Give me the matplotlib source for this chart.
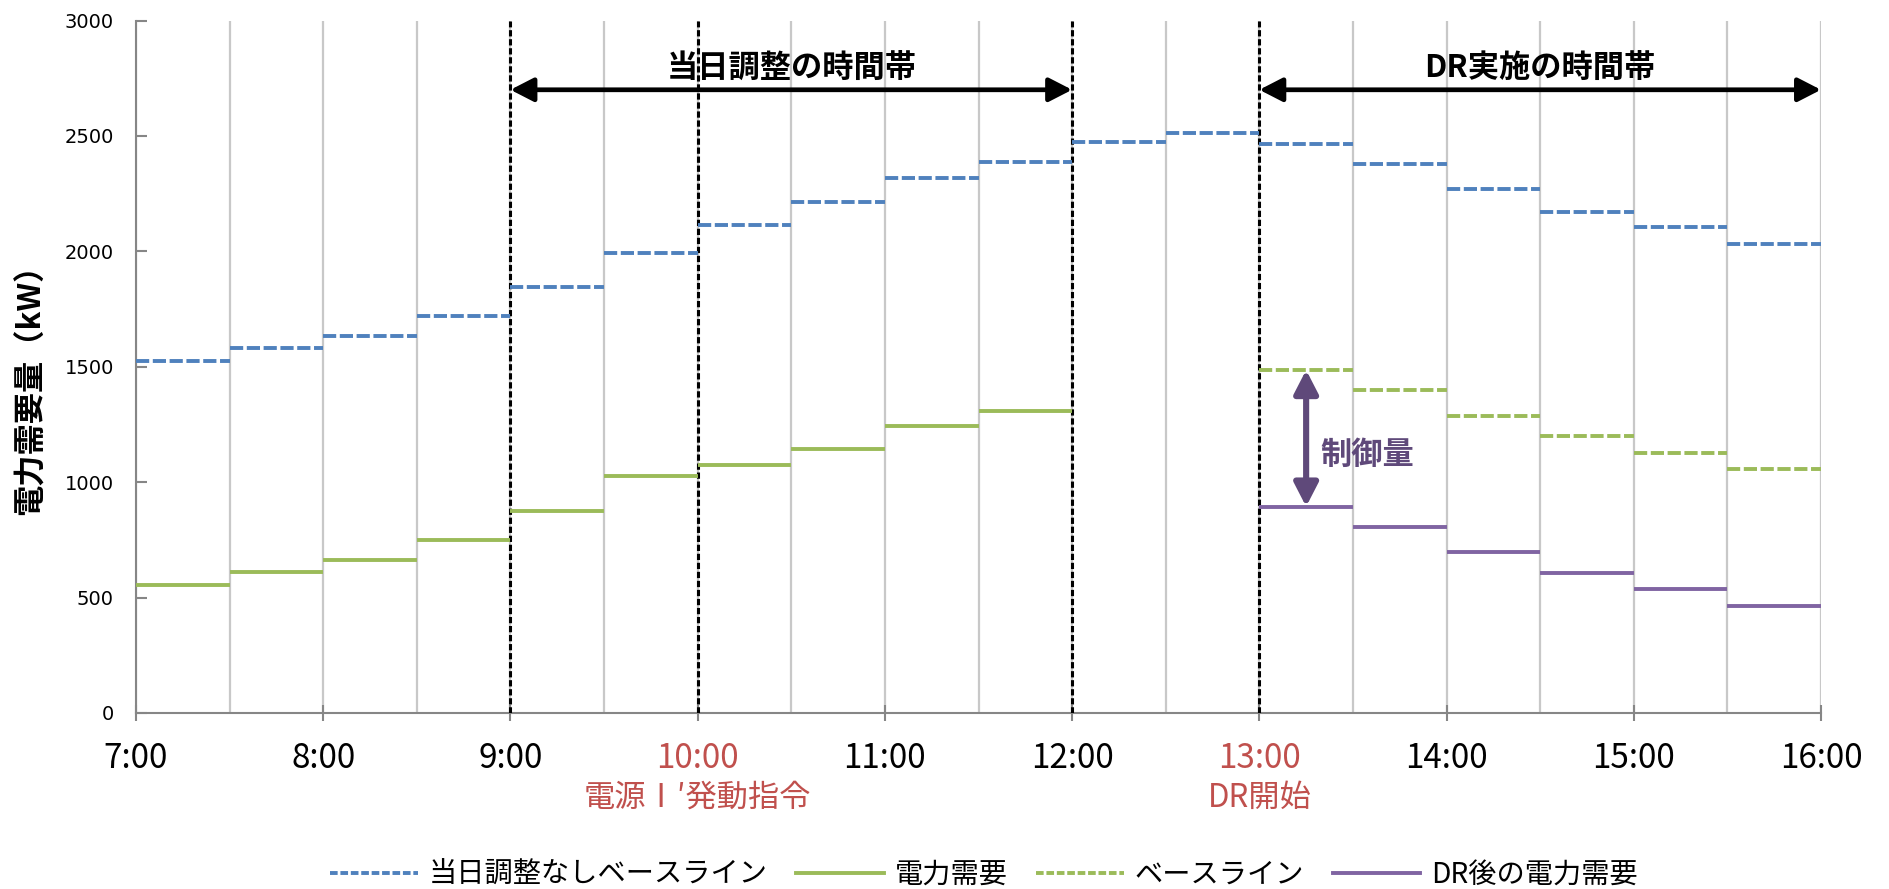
import matplotlib
matplotlib.use("Agg")
import matplotlib.pyplot as plt
from matplotlib.lines import Line2D

plt.rcParams['font.family'] = ['Noto Sans CJK JP', 'DejaVu Sans']
plt.rcParams['lines.scale_dashes'] = False

# ---------------- data ----------------
hour_labels = ["7:00", "8:00", "9:00", "10:00", "11:00", "12:00", "13:00", "14:00", "15:00", "16:00"]
half_hour_labels = ["7:30", "8:30", "9:30", "10:30", "11:30", "12:30", "13:30", "14:30", "15:30"]
slot_starts = ["7:00", "7:30", "8:00", "8:30", "9:00", "9:30", "10:00", "10:30", "11:00",
               "11:30", "12:00", "12:30", "13:00", "13:30", "14:00", "14:30", "15:00", "15:30"]
demand_slots = ["7:00", "7:30", "8:00", "8:30", "9:00", "9:30", "10:00", "10:30", "11:00", "11:30"]
dr_slots = ["13:00", "13:30", "14:00", "14:30", "15:00", "15:30"]

baseline_no_adj = [1525, 1580, 1633, 1718, 1845, 1995, 2115, 2212, 2316,
                   2388, 2475, 2511, 2464, 2377, 2268, 2172, 2104, 2033]
demand = [555, 610, 663, 748, 875, 1025, 1073, 1142, 1245, 1310]
baseline = [1486, 1401, 1288, 1200, 1127, 1059]
dr_demand = [894, 807, 699, 605, 537, 464]

red_hours = ["10:00", "13:00"]
sub_labels = {"10:00": "電源Ⅰ′発動指令", "13:00": "DR開始"}
event_lines = ["9:00", "10:00", "12:00", "13:00"]
series_names = ["当日調整なしベースライン", "電力需要", "ベースライン", "DR後の電力需要"]

BLUE = "#4F81BD"
GREEN = "#9BBB59"
PURPLE = "#8064A2"
DPURPLE = "#5F497A"
RED = "#C0504D"


def to_h(s):
    h, m = s.split(":")
    return int(h) + int(m) / 60.0


SLOT = 0.5
LW = 2.8
DASH = (9.5, 2.6)

fig = plt.figure(figsize=(18.89, 8.89), dpi=100)
ax = fig.add_axes([0.0720, 0.1980, 0.8920, 0.7789])
ax.set_xlim(to_h(hour_labels[0]), to_h(hour_labels[-1]))
ax.set_ylim(0, 3000)

# grid
ax.set_xticks([to_h(h) for h in hour_labels])
ax.set_xticks([to_h(h) for h in half_hour_labels], minor=True)
ax.grid(which='both', axis='x', color='#C8C8C8', lw=1.6, zorder=0)
ax.set_axisbelow(True)

for s in ['top', 'right']:
    ax.spines[s].set_visible(False)
for s in ['left', 'bottom']:
    ax.spines[s].set_color('#868686')
    ax.spines[s].set_linewidth(1.5)

# event dashed lines
for e in event_lines:
    ax.axvline(to_h(e), color='black', lw=2.2, dashes=(4.5, 2.0), zorder=3)

# series
for s, v in zip(slot_starts, baseline_no_adj):
    x0 = to_h(s)
    ax.plot([x0, x0 + SLOT], [v, v], color=BLUE, lw=LW, dashes=DASH, dash_capstyle='butt', zorder=4)
for s, v in zip(demand_slots, demand):
    x0 = to_h(s)
    ax.plot([x0, x0 + SLOT], [v, v], color=GREEN, lw=LW, solid_capstyle='butt', zorder=4)
for s, v in zip(dr_slots, baseline):
    x0 = to_h(s)
    ax.plot([x0, x0 + SLOT], [v, v], color=GREEN, lw=LW, dashes=DASH, dash_capstyle='butt', zorder=4)
for s, v in zip(dr_slots, dr_demand):
    x0 = to_h(s)
    ax.plot([x0, x0 + SLOT], [v, v], color=PURPLE, lw=LW, solid_capstyle='butt', zorder=4)

# ticks
ax.set_yticks([0, 500, 1000, 1500, 2000, 2500, 3000])
ax.tick_params(axis='y', direction='in', length=8, width=1.5, color='#868686', pad=16,
               labelsize=14)
for lab in ax.get_yticklabels():
    lab.set_fontfamily('DejaVu Sans')
ax.tick_params(axis='x', which='major', direction='inout', length=12, width=1.5, color='#868686',
               pad=14, labelsize=24)
ax.tick_params(axis='x', which='minor', length=0)
ax.set_xticklabels(hour_labels)
for lab, h in zip(ax.get_xticklabels(), hour_labels):
    if h in red_hours:
        lab.set_color(RED)

for h, t in sub_labels.items():
    ax.text(to_h(h), -0.122, t, transform=ax.get_xaxis_transform(), ha='center', va='center',
            fontsize=22.5, color=RED)

# y label
fig.text(0.0165, 0.570, "電力需要量（kW）", rotation=90, ha='center', va='center',
         fontsize=22.5, fontweight='bold')

# period arrows
arrow_y = 2700
text_y = 2795
AS = '<|-|>,head_length=0.7,head_width=0.36'
ax.annotate('', xy=(to_h("9:00"), arrow_y), xytext=(to_h("12:00"), arrow_y),
            arrowprops=dict(arrowstyle=AS, lw=3.4, color='black', shrinkA=0, shrinkB=0,
                            mutation_scale=20), zorder=6)
ax.text((to_h("9:00") + to_h("12:00")) / 2, text_y, "当日調整の時間帯", ha='center', va='center',
        fontsize=22.5, fontweight='bold', zorder=6)
ax.annotate('', xy=(to_h("13:00"), arrow_y), xytext=(to_h("16:00"), arrow_y),
            arrowprops=dict(arrowstyle=AS, lw=3.4, color='black', shrinkA=0, shrinkB=0,
                            mutation_scale=20), zorder=6)
ax.text((to_h("13:00") + to_h("16:00")) / 2, text_y, "DR実施の時間帯", ha='center', va='center',
        fontsize=22.5, fontweight='bold', zorder=6)

# control amount arrow
ax.annotate('', xy=(13.25, dr_demand[0]), xytext=(13.25, baseline[0]),
            arrowprops=dict(arrowstyle=AS, lw=4.4, color=DPURPLE, shrinkA=0, shrinkB=0,
                            mutation_scale=20), zorder=6)
ax.text(13.575, 1118, "制御量", ha='center', va='center', fontsize=22.5, fontweight='bold',
        color=DPURPLE, zorder=6)

# legend
handles = [
    Line2D([], [], color=BLUE, lw=LW, dashes=(5.5, 2)),
    Line2D([], [], color=GREEN, lw=LW),
    Line2D([], [], color=GREEN, lw=LW, dashes=(5.5, 2)),
    Line2D([], [], color=PURPLE, lw=LW),
]
fig.legend(handles, series_names, loc='center', bbox_to_anchor=(0.521, 0.016), ncol=4,
           frameon=False, fontsize=20.3, handlelength=3.1, handletextpad=0.4, columnspacing=1.0)

fig.savefig("out.png", dpi=100)
